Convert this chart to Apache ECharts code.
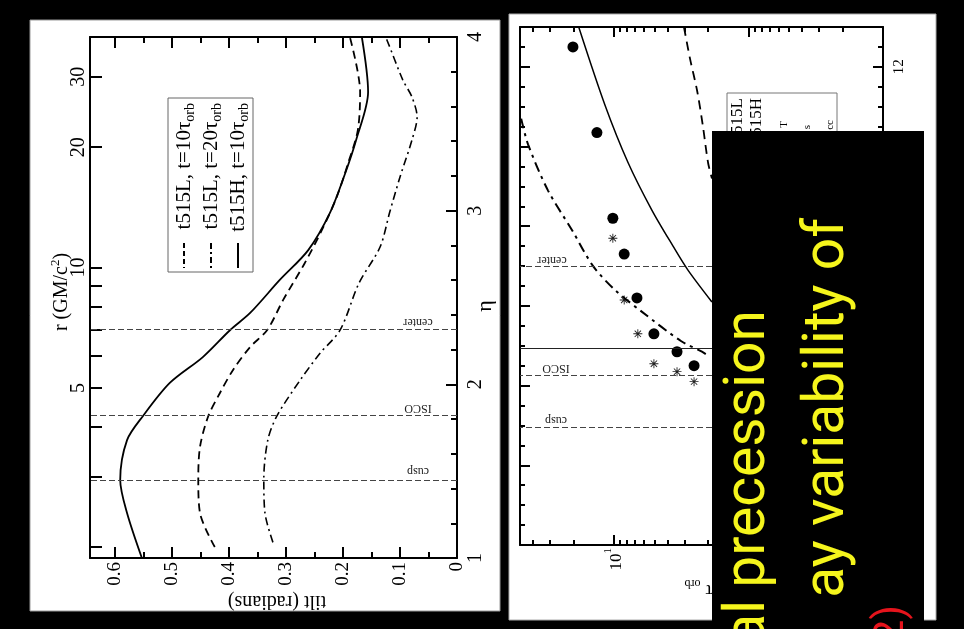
<!DOCTYPE html>
<html>
<head>
<meta charset="utf-8">
<script src="https://cdn.jsdelivr.net/npm/echarts@6/dist/echarts.min.js"></script>
<style>
  html, body { margin: 0; padding: 0; background: #000; }
  #chart { width: 964px; height: 629px; }
</style>
</head>
<body>
<div id="chart"></div>
<script>
// ---------- left panel: disc tilt (radians) against eta ----------
const etaL10  = [1.063, 1.259, 1.455, 1.639, 1.812, 1.950, 2.083, 2.215, 2.313, 2.486, 2.699, 2.889, 3.079, 3.274, 3.464, 3.683, 4.0];
const tiltL10 = [0.425, 0.451, 0.454, 0.451, 0.437, 0.416, 0.393, 0.363, 0.333, 0.305, 0.267, 0.237, 0.211, 0.191, 0.174, 0.170, 0.188];

const etaL20  = [1.09, 1.259, 1.455, 1.679, 1.818, 2.025, 2.180, 2.313, 2.583, 2.791, 2.992, 3.194, 3.407, 3.539, 3.654, 3.752, 3.983, 4.0];
const tiltL20 = [0.323, 0.337, 0.339, 0.332, 0.316, 0.275, 0.240, 0.205, 0.172, 0.135, 0.118, 0.100, 0.079, 0.070, 0.079, 0.095, 0.123, 0.126];

const etaH10  = [1.0, 1.259, 1.449, 1.679, 1.818, 2.008, 2.157, 2.313, 2.411, 2.601, 2.773, 2.987, 3.217, 3.407, 3.683, 4.0];
const tiltH10 = [0.553, 0.579, 0.591, 0.579, 0.551, 0.504, 0.446, 0.398, 0.363, 0.311, 0.261, 0.223, 0.196, 0.177, 0.156, 0.167];

// radius scale drawn along the eta axis: eta = ln r + 0.37
const R_OFFSET = 0.37;
const etaOfR = r => Math.log(r) + R_OFFSET;

const refNames = ['center', 'ISCO', 'cusp'];
const refR     = [7, 4.25, 2.95];
const extraLineR = 4.95;

// tick positions
const tiltMajor = [0, 0.1, 0.2, 0.3, 0.4, 0.5, 0.6];
const tiltMinor = [0.05, 0.15, 0.25, 0.35, 0.45, 0.55];
const etaMajor  = [1, 2, 3, 4];
const etaMinor  = [1.2, 1.4, 1.6, 1.8, 2.2, 2.4, 2.6, 2.8, 3.2, 3.4, 3.6, 3.8];
const rTicks    = [2, 3, 4, 5, 6, 7, 8, 9, 10, 20, 30];
const rLabels   = [5, 10, 20, 30];

// ---------- right panel: radius against time in orbits ----------
const dotTau  = [20.2, 13.4, 10.2, 8.4, 6.75, 5.05, 3.4, 2.54];
const dotR    = [12.5, 10.35, 8.2, 7.3, 6.2, 5.3, 4.85, 4.5];
const starTau = [10.2, 8.4, 6.65, 5.05, 3.4, 2.54];
const starR   = [7.7, 6.15, 5.3, 4.55, 4.35, 4.1];

const solidTau = [18.3, 11.7, 7.87, 5.22, 3.64, 2.82, 1.87];
const solidR   = [13.0, 11.05, 9.6, 8.4, 7.5, 6.9, 6.1];
const dashTau  = [3.02, 2.72, 2.41, 2.18, 2.0, 1.87];
const dashR    = [13.0, 12.2, 11.4, 10.5, 9.6, 9.2];
const dotDashTau = [49, 43.5, 31.0, 20.5, 14.3, 9.83, 6.19, 3.18, 2.22, 1.93];
const dotDashR   = [10.7, 10.05, 8.9, 7.9, 7.0, 6.4, 5.85, 5.12, 4.85, 4.72];

const tauMajor = [0.1, 1, 10];
const tauMinor = [0.2, 0.3, 0.4, 0.5, 0.6, 0.7, 0.8, 0.9, 2, 3, 4, 5, 6, 7, 8, 9, 20, 30, 40];
const radMajor = [0, 2, 4, 6, 8, 10, 12];
const radMinor = [0.5, 1, 1.5, 2.5, 3, 3.5, 4.5, 5, 5.5, 6.5, 7, 7.5, 8.5, 9, 9.5, 10.5, 11, 11.5, 12.5];

// ---------- helpers ----------
const serif = '"Liberation Serif", "DejaVu Serif", serif';
const slideFont = '"Comic Sans MS", Roboto, sans-serif';
const zip = (xs, ys) => xs.map((x, i) => [x, ys[i]]);

function axisDef(base, o) {
  return Object.assign({
    splitLine: { show: false },
    axisPointer: { show: false },
    axisLine: o.line
      ? { show: true, onZero: false, lineStyle: { color: '#000', width: 2 } }
      : { show: false, onZero: false },
    axisTick: { show: true, inside: true, length: o.len, customValues: o.ticks,
                lineStyle: { color: '#000', width: 2 } },
    axisLabel: o.labels
      ? Object.assign({ show: true, customValues: o.labels, rotate: 90, margin: 5,
                        color: '#000', fontFamily: serif, fontSize: 20 }, o.label || {})
      : { show: false }
  }, base);
}

const tiltBase = { type: 'value', gridIndex: 0, inverse: true, min: 0, max: 0.644 };
const etaBase  = { type: 'value', gridIndex: 0, min: 1, max: 4 };
const tauBase  = { type: 'log', logBase: 10, gridIndex: 1, inverse: true, min: 0.1, max: 50 };
const radBase  = { type: 'value', gridIndex: 1, min: 0, max: 13 };

const xAxis = [
  axisDef(Object.assign({ position: 'bottom' }, tiltBase), {
    line: true, ticks: tiltMajor, len: 11, labels: tiltMajor,
    label: { margin: 4, fontSize: 19, formatter: v => (v === 0 ? '0' : v.toFixed(1)) } }),
  axisDef(Object.assign({ position: 'bottom' }, tiltBase), { ticks: tiltMinor, len: 6 }),
  axisDef(Object.assign({ position: 'top' }, tiltBase), { line: true, ticks: tiltMajor, len: 11 }),
  axisDef(Object.assign({ position: 'top' }, tiltBase), { ticks: tiltMinor, len: 6 }),

  axisDef(Object.assign({ position: 'bottom' }, tauBase), {
    line: true, ticks: tauMajor, len: 10, labels: tauMajor,
    label: { margin: 3, fontSize: 17,
             formatter: v => '{b|10}{sup|' + Math.round(Math.log10(v)) + '}',
             rich: { b: { fontFamily: serif, fontSize: 17, lineHeight: 22, verticalAlign: 'bottom' },
                     sup: { fontFamily: serif, fontSize: 11, lineHeight: 22, verticalAlign: 'top' } } } }),
  axisDef(Object.assign({ position: 'bottom' }, tauBase), { ticks: tauMinor, len: 5 }),
  axisDef(Object.assign({ position: 'top' }, tauBase), { line: true, ticks: tauMajor, len: 10 }),
  axisDef(Object.assign({ position: 'top' }, tauBase), { ticks: tauMinor, len: 5 })
];

const yAxis = [
  axisDef(Object.assign({ position: 'right' }, etaBase), {
    line: true, ticks: etaMajor, len: 11, labels: etaMajor, label: { margin: 9 } }),
  axisDef(Object.assign({ position: 'right' }, etaBase), { ticks: etaMinor, len: 6 }),
  axisDef(Object.assign({ position: 'left' }, etaBase), {
    line: true, ticks: rTicks.map(etaOfR), len: 12, labels: rLabels.map(etaOfR),
    label: { margin: 1, formatter: v => String(Math.round(Math.exp(v - R_OFFSET))) } }),

  axisDef(Object.assign({ position: 'right' }, radBase), {
    line: true, ticks: radMajor, len: 10, labels: radMajor, label: { margin: 9, fontSize: 15 } }),
  axisDef(Object.assign({ position: 'right' }, radBase), { ticks: radMinor, len: 5 }),
  axisDef(Object.assign({ position: 'left' }, radBase), { line: true, ticks: radMajor, len: 10 }),
  axisDef(Object.assign({ position: 'left' }, radBase), { ticks: radMinor, len: 5 })
];

const refLineStyle = { color: '#444', width: 1, type: [6, 3] };
const STAR = 'path://M9,0L11,0L11,20L9,20Z M0,9L20,9L20,11L0,11Z ' +
             'M3.7,2.3L17.7,16.3L16.3,17.7L2.3,3.7Z M17.7,3.7L3.7,17.7L2.3,16.3L16.3,2.3Z';

const series = [
  { type: 'line', name: 't515L, t=10', xAxisIndex: 0, yAxisIndex: 0,
    data: zip(tiltL10, etaL10), showSymbol: false, smooth: 0.3, silent: true,
    lineStyle: { color: '#000', width: 1.8, type: [8, 5] },
    markLine: { silent: true, symbol: 'none', label: { show: false }, lineStyle: refLineStyle,
                data: refR.map(r => ({ yAxis: etaOfR(r) })) } },
  { type: 'line', name: 't515L, t=20', xAxisIndex: 0, yAxisIndex: 0,
    data: zip(tiltL20, etaL20), showSymbol: false, smooth: 0.3, silent: true,
    lineStyle: { color: '#000', width: 1.6, type: [8, 4, 2, 4] } },
  { type: 'line', name: 't515H, t=10', xAxisIndex: 0, yAxisIndex: 0,
    data: zip(tiltH10, etaH10), showSymbol: false, smooth: 0.3, silent: true,
    lineStyle: { color: '#000', width: 1.8 } },

  { type: 'line', xAxisIndex: 4, yAxisIndex: 3, data: zip(solidTau, solidR),
    showSymbol: false, smooth: 0.3, silent: true, lineStyle: { color: '#000', width: 1.5 },
    markLine: { silent: true, symbol: 'none', label: { show: false }, lineStyle: refLineStyle,
                data: refR.map(r => ({ yAxis: r }))
                  .concat([{ yAxis: extraLineR, lineStyle: { type: 'solid', color: '#222', width: 1 } }]) } },
  { type: 'line', xAxisIndex: 4, yAxisIndex: 3, data: zip(dashTau, dashR),
    showSymbol: false, smooth: 0.3, silent: true, lineStyle: { color: '#000', width: 1.8, type: [9, 6] } },
  { type: 'line', xAxisIndex: 4, yAxisIndex: 3, data: zip(dotDashTau, dotDashR),
    showSymbol: false, smooth: 0.3, silent: true, lineStyle: { color: '#000', width: 2, type: [10, 5, 3, 5] } },
  { type: 'scatter', xAxisIndex: 4, yAxisIndex: 3, data: zip(dotTau, dotR), silent: true,
    symbol: 'circle', symbolSize: 11, itemStyle: { color: '#000', opacity: 1 } },
  { type: 'scatter', xAxisIndex: 4, yAxisIndex: 3, data: zip(starTau, starR), silent: true,
    symbol: STAR, symbolSize: 9, itemStyle: { color: '#222', opacity: 1 } }
];

// ---------- annotations, legends and slide overlay ----------
const UP = Math.PI / 2;    // reads bottom to top
const FLIP = Math.PI;      // upside down

function txt(x, y, rotation, text, style, z) {
  return { type: 'text', x, y, rotation, z: z == null ? 10 : z, silent: true,
           style: Object.assign({ text, fill: '#000', align: 'center', verticalAlign: 'middle' }, style) };
}
const serifStyle = size => ({ fontFamily: serif, fontSize: size });
const subRich = size => ({
  m: { fontFamily: serif, fontSize: size, lineHeight: size + 6, verticalAlign: 'middle' },
  sub: { fontFamily: serif, fontSize: Math.round(size * 0.65), lineHeight: size + 6, verticalAlign: 'bottom' },
  sup: { fontFamily: serif, fontSize: Math.round(size * 0.65), lineHeight: size + 6, verticalAlign: 'top' }
});

const legendNames = ['t515L, t=10', 't515L, t=20', 't515H, t=10'];
const legendDash = [[5, 3], [6, 3, 2, 3], null];

const graphics = [
  { type: 'rect', z: -10, silent: true, shape: { x: 30, y: 20, width: 470, height: 591 },
    style: { fill: '#fff', stroke: '#999', lineWidth: 1 } },
  { type: 'rect', z: -10, silent: true, shape: { x: 509, y: 14, width: 427, height: 606 },
    style: { fill: '#fff', stroke: '#aaa', lineWidth: 1 } },

  // left panel legend
  { type: 'rect', z: 8, silent: true, shape: { x: 168, y: 98, width: 85, height: 174 },
    style: { fill: '#fff', stroke: '#666', lineWidth: 1 } },

  // left panel axis titles
  txt(62, 292, UP, '{m|r (GM/c}{sup|2}{m|)}', { rich: subRich(20) }),
  txt(485, 306, UP, 'η', serifStyle(22)),
  txt(277, 601, FLIP, 'tilt (radians)', serifStyle(20)),

  // right panel legend fragments
  { type: 'rect', z: 8, silent: true, shape: { x: 727, y: 93, width: 110, height: 70 },
    style: { fill: '#fff', stroke: '#777', lineWidth: 1 } },
  txt(738, 98, UP, 't515L', Object.assign(serifStyle(17), { align: 'right' })),
  txt(757, 98, UP, 't515H', Object.assign(serifStyle(17), { align: 'right' })),
  txt(784, 121, UP, 'T', Object.assign(serifStyle(11), { align: 'right' })),
  txt(807, 125, UP, 's', Object.assign(serifStyle(11), { align: 'right' })),
  txt(830, 120, UP, 'cc', Object.assign(serifStyle(11), { align: 'right' })),

  // right panel axis title fragment
  txt(713, 590, FLIP, '{m|τ }{sub|orb}', { align: 'left', rich: subRich(19) }),

  // slide overlay box with caption
  { type: 'rect', z: 100, silent: true, shape: { x: 712, y: 131, width: 212, height: 500 },
    style: { fill: '#000' } },
  txt(750, 600, UP, 'al', { fontFamily: slideFont, fontSize: 57, fill: '#f5f51c', align: 'right' }, 101),
  txt(750, 310, UP, 'precession', { fontFamily: slideFont, fontSize: 57, fill: '#f5f51c', align: 'right' }, 101),
  txt(829, 218, UP, 'ay variability of', { fontFamily: slideFont, fontSize: 57, fill: '#f5f51c', align: 'right' }, 101),
  txt(892, 605, UP, '2)', { fontFamily: slideFont, fontSize: 42, fill: '#e5141c', align: 'right' }, 101)
];

// legend entries of the left panel
legendNames.forEach((name, i) => {
  const x = 184 + 27 * i;
  graphics.push({ type: 'line', z: 9, silent: true, shape: { x1: x, y1: 243, x2: x, y2: 268 },
                  style: { stroke: '#000', lineWidth: 2, lineDash: legendDash[i] || null } });
  graphics.push(txt(x, 103, UP, '{m|' + name + 'τ}{sub|orb}', { align: 'right', rich: subRich(21) }, 9));
});

// reference line names
const leftRefLabelY = [322, 408, 471];
const rightRefLabelPos = [[552, 260], [556, 368], [556, 420]];
refNames.forEach((name, i) => {
  graphics.push(txt(418, leftRefLabelY[i], FLIP, name, Object.assign(serifStyle(12), { fill: '#222' })));
  graphics.push(txt(rightRefLabelPos[i][0], rightRefLabelPos[i][1], FLIP, name,
                    Object.assign(serifStyle(12), { fill: '#222' })));
});

const option = {
  backgroundColor: '#000',
  animation: false,
  grid: [
    { left: 90, top: 37, right: 507, bottom: 71, outerBoundsMode: 'none', containLabel: false },
    { left: 520, top: 27, right: 81, bottom: 84, outerBoundsMode: 'none', containLabel: false }
  ],
  xAxis,
  yAxis,
  series,
  graphic: { elements: graphics }
};

const chart = echarts.init(document.getElementById('chart'), null, { renderer: 'canvas' });
chart.setOption(option);
</script>
</body>
</html>
